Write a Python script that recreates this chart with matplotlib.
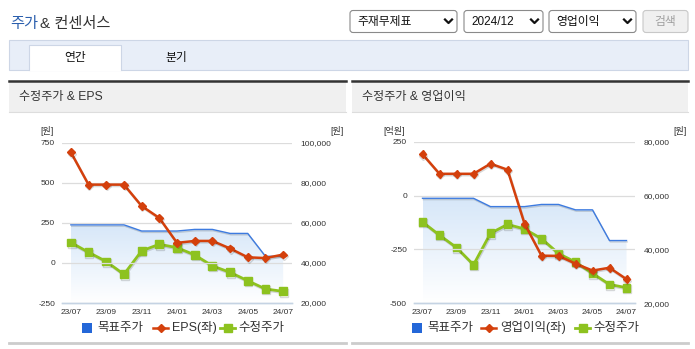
import matplotlib.pyplot as plt
import matplotlib.patheffects as pe
import numpy as np
from matplotlib.patches import Rectangle, FancyBboxPatch

plt.rcParams['font.family'] = ['Liberation Sans', 'Noto Sans CJK KR']

W, H = 695, 349

months = ['23/07', '23/08', '23/09', '23/10', '23/11', '23/12', '24/01',
          '24/02', '24/03', '24/04', '24/05', '24/06', '24/07']
target_price = [59000, 59000, 59000, 59000, 55900, 55900, 55900,
                56700, 56700, 54700, 54700, 43300, 43300]
adj_price = [50200, 45300, 40700, 34300, 46000, 49300, 47600,
             44000, 38500, 35300, 31100, 27000, 25800]
eps = [690, 488, 488, 488, 355, 280, 125, 137, 137, 90, 35, 30, 52]
op_income = [192, 101, 101, 101, 148, 120, -130, -279, -280, -316, -348, -335, -388]

RED = '#d4400c'
GREEN = '#8dc21f'
BLUE = '#3d7be0'
TXT = '#333333'

fig = plt.figure(figsize=(W / 100, H / 100), dpi=100)
bg = fig.add_axes([0, 0, 1, 1])
bg.set_xlim(0, W)
bg.set_ylim(H, 0)
bg.axis('off')

# page header
bg.text(10, 24, '주가', fontsize=11, color='#2b5fad', va='center')
bg.text(40, 24, '& 컨센서스', fontsize=11, color=TXT, va='center')

# select boxes
for x0, x1, label in [(350, 457, '주재무제표'), (464, 543, '2024/12'), (549, 636, '영업이익')]:
    bg.add_patch(FancyBboxPatch((x0, 10.5), x1 - x0, 22, boxstyle='round,pad=0,rounding_size=3',
                                fc='white', ec='#8a8a8a', lw=0.8))
    bg.text(x0 + 7, 22, label, fontsize=8.5, color='#111111', va='center')
    bg.plot([x1 - 12, x1 - 8.5, x1 - 5], [19.5, 23, 19.5], color='#111111', lw=1.6)
bg.add_patch(FancyBboxPatch((643, 10.5), 45, 22, boxstyle='round,pad=0,rounding_size=3',
                            fc='#f0f0f0', ec='#c8c8c8', lw=0.8))
bg.text(665.5, 22, '검색', fontsize=8.5, color='#a0a0a0', va='center', ha='center')

# tab bar
bg.add_patch(Rectangle((9, 40), 679, 30, fc='#e8eef8', ec='#cdd6e6', lw=0.8))
bg.add_patch(Rectangle((29, 45), 92, 26, fc='white', ec='none'))
bg.plot([29, 29, 121, 121], [70, 45, 45, 70], color='#cdd6e6', lw=0.8)
bg.text(75, 57.5, '연간', fontsize=8.5, color='#111111', va='center', ha='center')
bg.text(176, 57.5, '분기', fontsize=8.5, color='#111111', va='center', ha='center')

# panel headers
for x0, x1, title in [(9, 346, '수정주가 & EPS'), (352, 688, '수정주가 & 영업이익')]:
    bg.add_patch(Rectangle((x0, 81), x1 - x0, 31, fc='#f0f0f0', ec='none'))
    bg.plot([x0, x1], [80.5, 80.5], color='#333333', lw=1.8)
    bg.plot([x0, x1], [112, 112], color='#dddddd', lw=0.8)
    bg.text(x0 + 10, 97, title, fontsize=8.7, color=TXT, va='center')
    bg.plot([x0, x1], [343, 343], color='#cccccc', lw=2)


def px_axes(x0, x1, y0, y1):
    return fig.add_axes([x0 / W, 1 - y1 / H, (x1 - x0) / W, (y1 - y0) / H])


def draw_chart(x0, x1, y0, y1, left_vals, left_lim, right_lim, left_ticks, right_ticks,
               left_unit, right_unit, unit_x, runit_x, series_name, legend_x):
    x = np.arange(len(months))
    ax = px_axes(x0, x1, y0, y1)
    ax.set_facecolor('none')
    ax2 = ax.twinx()
    ax2.set_facecolor('none')
    ax.set_zorder(ax2.get_zorder() + 1)

    for a in (ax, ax2):
        a.set_xlim(-0.5, len(months) - 0.5)
        for s in ('top', 'left', 'right'):
            a.spines[s].set_visible(False)
        a.spines['bottom'].set_color('#c5d3e3')
        a.spines['bottom'].set_linewidth(1)

    ax.set_ylim(*left_lim)
    ax2.set_ylim(*right_lim)
    ax.set_yticks(left_ticks)
    ax.set_yticklabels([f'{t}' for t in left_ticks])
    ax2.set_yticks(right_ticks)
    ax2.set_yticklabels([f'{t:,}' for t in right_ticks])
    ax.tick_params(axis='y', length=0, pad=5, labelsize=6, labelcolor=TXT)
    ax2.tick_params(axis='y', length=0, pad=6, labelsize=6, labelcolor=TXT)
    for t in left_ticks[1:]:
        ax.axhline(t, color='#dcdcdc', lw=0.9, zorder=0)

    ax.set_xticks(np.arange(0.5, len(months), 2))
    ax.set_xticklabels([])
    ax.set_xticks(np.arange(0, len(months), 2), minor=True)
    ax.set_xticklabels(months[::2], minor=True)
    ax.tick_params(axis='x', which='major', length=4, color='#c5d3e3', direction='out')
    ax.tick_params(axis='x', which='minor', length=0, pad=4, labelsize=6, labelcolor=TXT)
    ax2.set_xticks([])

    # target price area with vertical gradient
    bottom = right_lim[0]
    area = ax2.fill_between(x, target_price, bottom, fc='none', ec='none')
    grad = np.linspace(1, 0, 256)[:, None, None]
    top_c = np.array([0.84, 0.905, 0.975])
    img = grad * top_c + (1 - grad) * np.ones(3)
    im = ax2.imshow(img, extent=[x[0], x[-1], bottom, max(target_price)], aspect='auto',
                    origin='upper', zorder=1)
    im.set_clip_path(area.get_paths()[0], transform=ax2.transData)
    ax2.set_xlim(-0.5, len(months) - 0.5)
    ax2.set_ylim(*right_lim)

    shadow = [pe.SimpleLineShadow(offset=(0.6, -1.0), alpha=0.15), pe.Normal()]
    ax2.plot(x, target_price, color=BLUE, lw=1.0, zorder=2, path_effects=shadow)
    ax2.plot(x, adj_price, color=GREEN, lw=2.0, marker='s', ms=5.6, zorder=3,
             path_effects=shadow)
    ax.plot(x, left_vals, color=RED, lw=1.8, marker='D', ms=4, zorder=4,
            path_effects=shadow)

    bg.text(unit_x, 131, left_unit, fontsize=6.5, color=TXT, va='center')
    bg.text(runit_x, 131, right_unit, fontsize=6.5, color=TXT, va='center')

    # legend
    sq, red_x, red_t, grn_x, grn_t = legend_x
    bg.add_patch(Rectangle((sq, 323), 10, 10, fc='#2467d8', ec='none'))
    bg.text(sq + 15, 328, '목표주가', fontsize=9, color=TXT, va='center')
    bg.plot([red_x, red_x + 15], [328, 328], color=RED, lw=1.8)
    bg.plot([red_x + 7.5], [328], color=RED, marker='D', ms=4)
    bg.text(red_t, 328, series_name, fontsize=9, color=TXT, va='center')
    bg.plot([grn_x, grn_x + 15], [328, 328], color=GREEN, lw=2)
    bg.plot([grn_x + 7.5], [328], color=GREEN, marker='s', ms=5.6)
    bg.text(grn_t, 328, '수정주가', fontsize=9, color=TXT, va='center')


draw_chart(62, 292, 142.6, 303, eps, (-250, 750), (20000, 100000),
           [-250, 0, 250, 500, 750], [20000, 40000, 60000, 80000, 100000],
           '[원]', '[원]', 40, 330, 'EPS(좌)', (82, 153, 172, 220, 238))
draw_chart(414, 635, 141.7, 303.3, op_income, (-500, 250), (20000, 80000),
           [-500, -250, 0, 250], [20000, 40000, 60000, 80000],
           '[억원]', '[원]', 383, 673, '영업이익(좌)', (412, 481, 500, 575, 593))

fig.savefig('out.png', dpi=100)
